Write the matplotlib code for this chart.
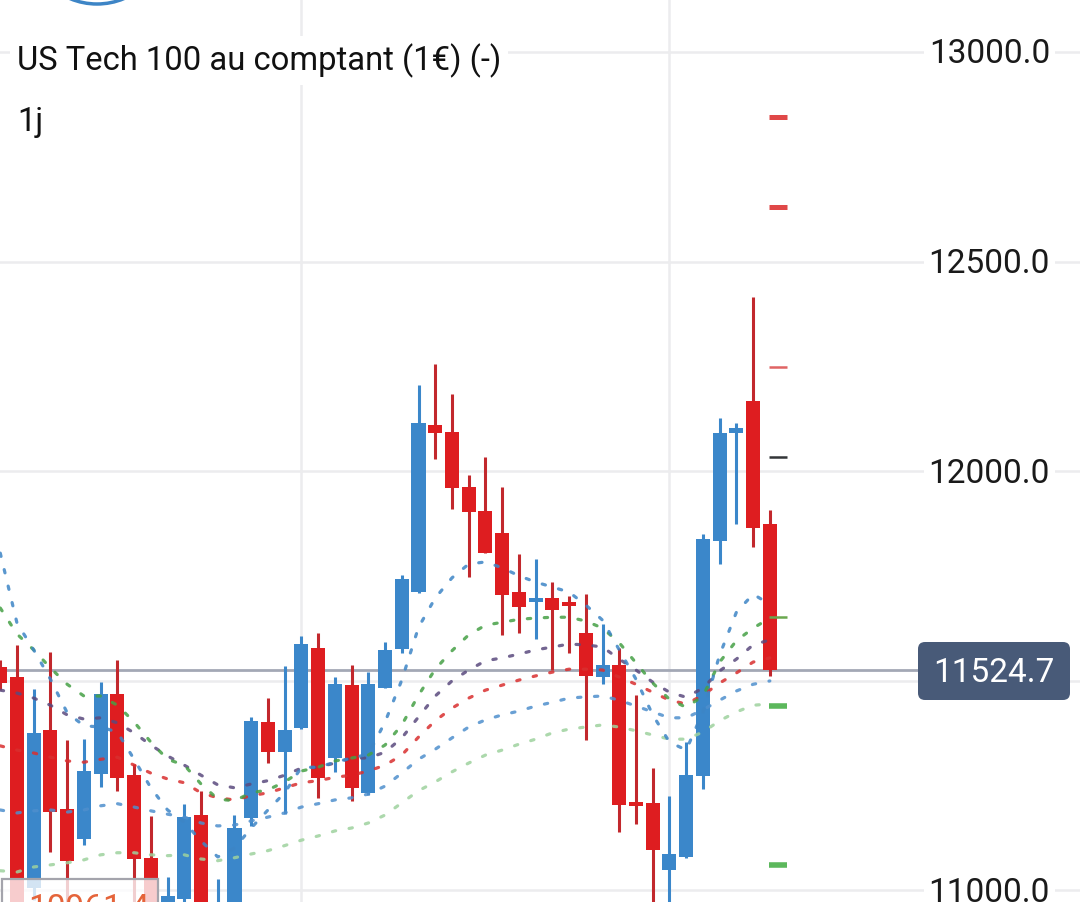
import matplotlib
matplotlib.use('Agg')
import matplotlib.pyplot as plt
from matplotlib.patches import FancyBboxPatch, Rectangle, Ellipse
from matplotlib.transforms import IdentityTransform, blended_transform_factory, offset_copy
import numpy as np

plt.rcParams['font.family'] = ['Roboto', 'DejaVu Sans']
plt.rcParams['lines.scale_dashes'] = False

# ---------------- data ----------------
title = "US Tech 100 au comptant (1€) (-)"
interval = "1j"

opens = [11532, 11508, 11005, 11382, 11193, 11122, 11277, 11468, 11275, 11076,
         10966, 10979, 11179, 10964, 10966, 11172, 11401, 11329, 11387, 11578,
         11315, 11489, 11232, 11482, 11575, 11711, 12110, 12093, 11962, 11905,
         11852, 11711, 11687, 11697, 11687, 11613, 11508, 11537, 11210, 11208,
         11048, 11079, 11272, 11833, 12091, 12167, 11874]
highs = [11549, 11585, 11480, 11568, 11358, 11360, 11496, 11549, 11301, 11177,
         11031, 11205, 11236, 11026, 11179, 11413, 11458, 11535, 11606, 11613,
         11508, 11537, 11520, 11592, 11752, 12205, 12255, 12184, 11990, 12033,
         11962, 11802, 11790, 11735, 11702, 11706, 11635, 11578, 11465, 11291,
         11224, 11353, 11850, 12127, 12115, 12415, 11907]
lows = [11477, 10961.4, 10976, 11091, 10968, 11107, 11246, 11236, 10966, 10963,
        10962, 10972, 10963, 10962, 10962, 11153, 11303, 11181, 11385, 11220,
        11282, 11212, 11227, 11482, 11566, 11709, 12029, 11909, 11747, 11804,
        11609, 11613, 11599, 11525, 11566, 11358, 11492, 11138, 11158, 10963,
        10964, 11076, 11241, 11778, 11874, 11819, 11511]
closes = [11494, 10966, 11375, 11186, 11069, 11284, 11468, 11267, 11074, 10968,
          10986, 11174, 10967, 10969, 11148, 11403, 11329, 11382, 11587, 11267,
          11492, 11243, 11492, 11573, 11742, 12115, 12091, 11959, 11902, 11804,
          11704, 11675, 11697, 11668, 11678, 11511, 11537, 11203, 11200, 11095,
          11086, 11275, 11838, 12091, 12103, 11864, 11524.7]

ma_blue_fast = [11804, 11637, 11573, 11503, 11423, 11392, 11389, 11377, 11312, 11244,
                11191, 11162, 11117, 11079, 11100, 11148, 11191, 11232, 11293, 11293,
                11305, 11315, 11324, 11401, 11501, 11627, 11697, 11745, 11778, 11783,
                11769, 11750, 11735, 11723, 11711, 11680, 11644, 11573, 11503, 11418,
                11353, 11334, 11425, 11561, 11663, 11706, 11682]
ma_green = [11673, 11611, 11573, 11530, 11491, 11463, 11463, 11441, 11401, 11353,
            11312, 11298, 11253, 11217, 11213, 11232, 11239, 11258, 11284, 11293,
            11308, 11315, 11322, 11346, 11394, 11465, 11527, 11571, 11609, 11632,
            11639, 11646, 11649, 11651, 11651, 11642, 11625, 11590, 11542, 11494,
            11455, 11436, 11463, 11544, 11595, 11625, 11649]
ma_purple = [11477, 11470, 11458, 11441, 11418, 11408, 11411, 11399, 11375, 11346,
             11320, 11298, 11274, 11251, 11244, 11253, 11261, 11274, 11291, 11293,
             11303, 11315, 11315, 11329, 11363, 11413, 11463, 11499, 11525, 11547,
             11554, 11563, 11573, 11580, 11587, 11585, 11580, 11551, 11525, 11496,
             11472, 11460, 11482, 11523, 11551, 11585, 11597]
ma_red = [11344, 11334, 11327, 11317, 11308, 11305, 11312, 11317, 11298, 11279,
          11265, 11256, 11232, 11220, 11215, 11225, 11232, 11244, 11256, 11261,
          11269, 11274, 11284, 11298, 11322, 11365, 11404, 11434, 11458, 11477,
          11489, 11501, 11511, 11520, 11527, 11527, 11525, 11508, 11491, 11472,
          11453, 11444, 11465, 11494, 11518, 11544, 11554]
ma_blue_slow = [11191, 11184, 11189, 11191, 11186, 11191, 11201, 11206, 11198, 11189,
                11181, 11174, 11160, 11153, 11155, 11165, 11174, 11184, 11198, 11206,
                11215, 11220, 11229, 11248, 11279, 11312, 11336, 11363, 11389, 11406,
                11418, 11427, 11439, 11448, 11458, 11461, 11463, 11453, 11439, 11425,
                11411, 11411, 11430, 11453, 11475, 11491, 11499]
ma_lightgreen = [11046, 11043, 11055, 11060, 11065, 11072, 11084, 11089, 11089, 11084,
                 11082, 11084, 11074, 11070, 11077, 11086, 11094, 11106, 11119, 11129,
                 11141, 11148, 11160, 11179, 11208, 11237, 11258, 11282, 11303, 11322,
                 11334, 11348, 11360, 11375, 11384, 11389, 11394, 11389, 11380, 11370,
                 11360, 11360, 11377, 11404, 11425, 11441, 11444]

levels_red = [12845, 12630]
level_red_thin = [12248]
level_dark = [12033]
level_green_thin = [11652]
levels_green = [11439, 11060]

last_price = 11524.7
low_label = 10961.4
y_ticks = [11000, 11500, 12000, 12500, 13000]
y_tick_labels_shown = [11000, 12000, 12500, 13000]   # 11500.0 is hidden under the price tag
x_grid = [18, 40]

# ---------------- figure ----------------
W, H = 1080, 902
fig = plt.figure(figsize=(W / 100, H / 100), dpi=100)
fig.patch.set_facecolor('white')
ax = fig.add_axes([0, 0, 1, 1])
ax.set_facecolor('white')
x0_px, step_px = 0.27, 16.73
ax.set_xlim(-x0_px / step_px, (W - x0_px) / step_px)
ax.set_ylim(10971.4, 13124.1)
ax.axis('off')

grid_c = '#ececee'
for yv in y_ticks:
    ax.axhline(yv, color=grid_c, lw=1.8, zorder=0)
for xv in x_grid:
    ax.axvline(xv, color=grid_c, lw=1.8, zorder=0)

# current price line (behind candles)
ax.axhline(last_price, xmin=0, xmax=918 / W, color='#a3a8b5', lw=2.0, zorder=1)

# candles
n = len(opens)
idx = np.arange(n)
red_body, red_wick = '#de1d20', '#c2282d'
blue_body, blue_wick = '#3b87ca', '#3b87ca'
for i in range(n):
    o, h, l, c = opens[i], highs[i], lows[i], closes[i]
    up = c >= o
    bc = blue_body if up else red_body
    wc = blue_wick if up else red_wick
    ax.vlines(i, l, h, color=wc, lw=2.2, zorder=2)
    bot = min(o, c)
    hgt = max(abs(c - o), 8.0)
    if abs(c - o) < 8.0:
        bot = (o + c) / 2 - 4.0
    ax.bar(i, hgt, bottom=bot, width=0.84, color=bc, zorder=2.5, linewidth=0)

# moving averages (dotted)
ma_specs = [
    (ma_lightgreen, '#9ed29e'),
    (ma_blue_slow, '#4f8fcd'),
    (ma_red, '#d92f2f'),
    (ma_purple, '#5a4a7e'),
    (ma_green, '#45a045'),
    (ma_blue_fast, '#3d85c6'),
]
for vals, col in ma_specs:
    ln, = ax.plot(idx, vals, color=col, lw=2.3, alpha=0.85, zorder=3,
                  dash_capstyle='round')
    ln.set_dashes((2.4, 9.8))

# level markers on the right
xa, xb = n - 1 - 0.05, n - 1 + 1.03
ax.hlines(levels_red, xa, xb, color='#e04848', lw=3.6, zorder=4)
ax.hlines(level_red_thin, xa, xb, color='#e06464', lw=1.8, zorder=4)
ax.hlines(level_dark, xa, xb, color='#333538', lw=1.8, zorder=4)
ax.hlines(level_green_thin, xa, xb, color='#6aa84f', lw=1.8, zorder=4)
ax.hlines(levels_green, xa, xb, color='#5cb85c', lw=4.0, zorder=4)

# y tick labels (right side)
btr = blended_transform_factory(ax.transAxes, ax.transData)
tick_tr = offset_copy(btr, fig=fig, x=0, y=-11.5, units='dots')
for yv in y_tick_labels_shown:
    ax.text(1050 / W, yv, f"{yv:.1f}", transform=tick_tr, ha='right', va='baseline',
            fontsize=24, color='#1a1a1a', zorder=5,
            bbox=dict(facecolor='white', edgecolor='none', pad=3.5))

# current price label
box = FancyBboxPatch((918, H - 700), 152, 58,
                     boxstyle='round,pad=0,rounding_size=7',
                     transform=IdentityTransform(), facecolor='#485a78',
                     edgecolor='none', zorder=10)
fig.add_artist(box)
fig.text(994 / W, 1 - 682.5 / H, f"{last_price:.1f}", ha='center', va='baseline',
         fontsize=24, color='white', zorder=11)

# low label box at bottom-left
lowbox = Rectangle((2, -30), 156, H - 879 + 30, transform=IdentityTransform(),
                   facecolor='white', alpha=0.78, edgecolor='none', zorder=8)
fig.add_artist(lowbox)
lowedge = Rectangle((2, -30), 156, H - 879 + 30, transform=IdentityTransform(),
                    facecolor='none', edgecolor='#a4a4ac', lw=1.6, zorder=9)
fig.add_artist(lowedge)
fig.text(28 / W, 1 - 918 / H, f"{low_label:.1f}", ha='left', va='baseline',
         fontsize=24, color='#e5643a', zorder=9)

# title and interval
fig.text(17 / W, 1 - 70 / H, title, ha='left', va='baseline', fontsize=23.6,
         color='#111111', zorder=6,
         bbox=dict(facecolor='white', edgecolor='none', pad=5))
fig.text(17 / W, 1 - 131 / H, interval, ha='left', va='baseline', fontsize=23.6,
         color='#111111', zorder=6)

# partial circle button at the top-left
circ = Ellipse((97, H + 66), 140, 140, transform=IdentityTransform(),
               facecolor='none', edgecolor='#3d85c6', lw=2.5, zorder=6)
fig.add_artist(circ)

fig.savefig('out.png', dpi=100)
